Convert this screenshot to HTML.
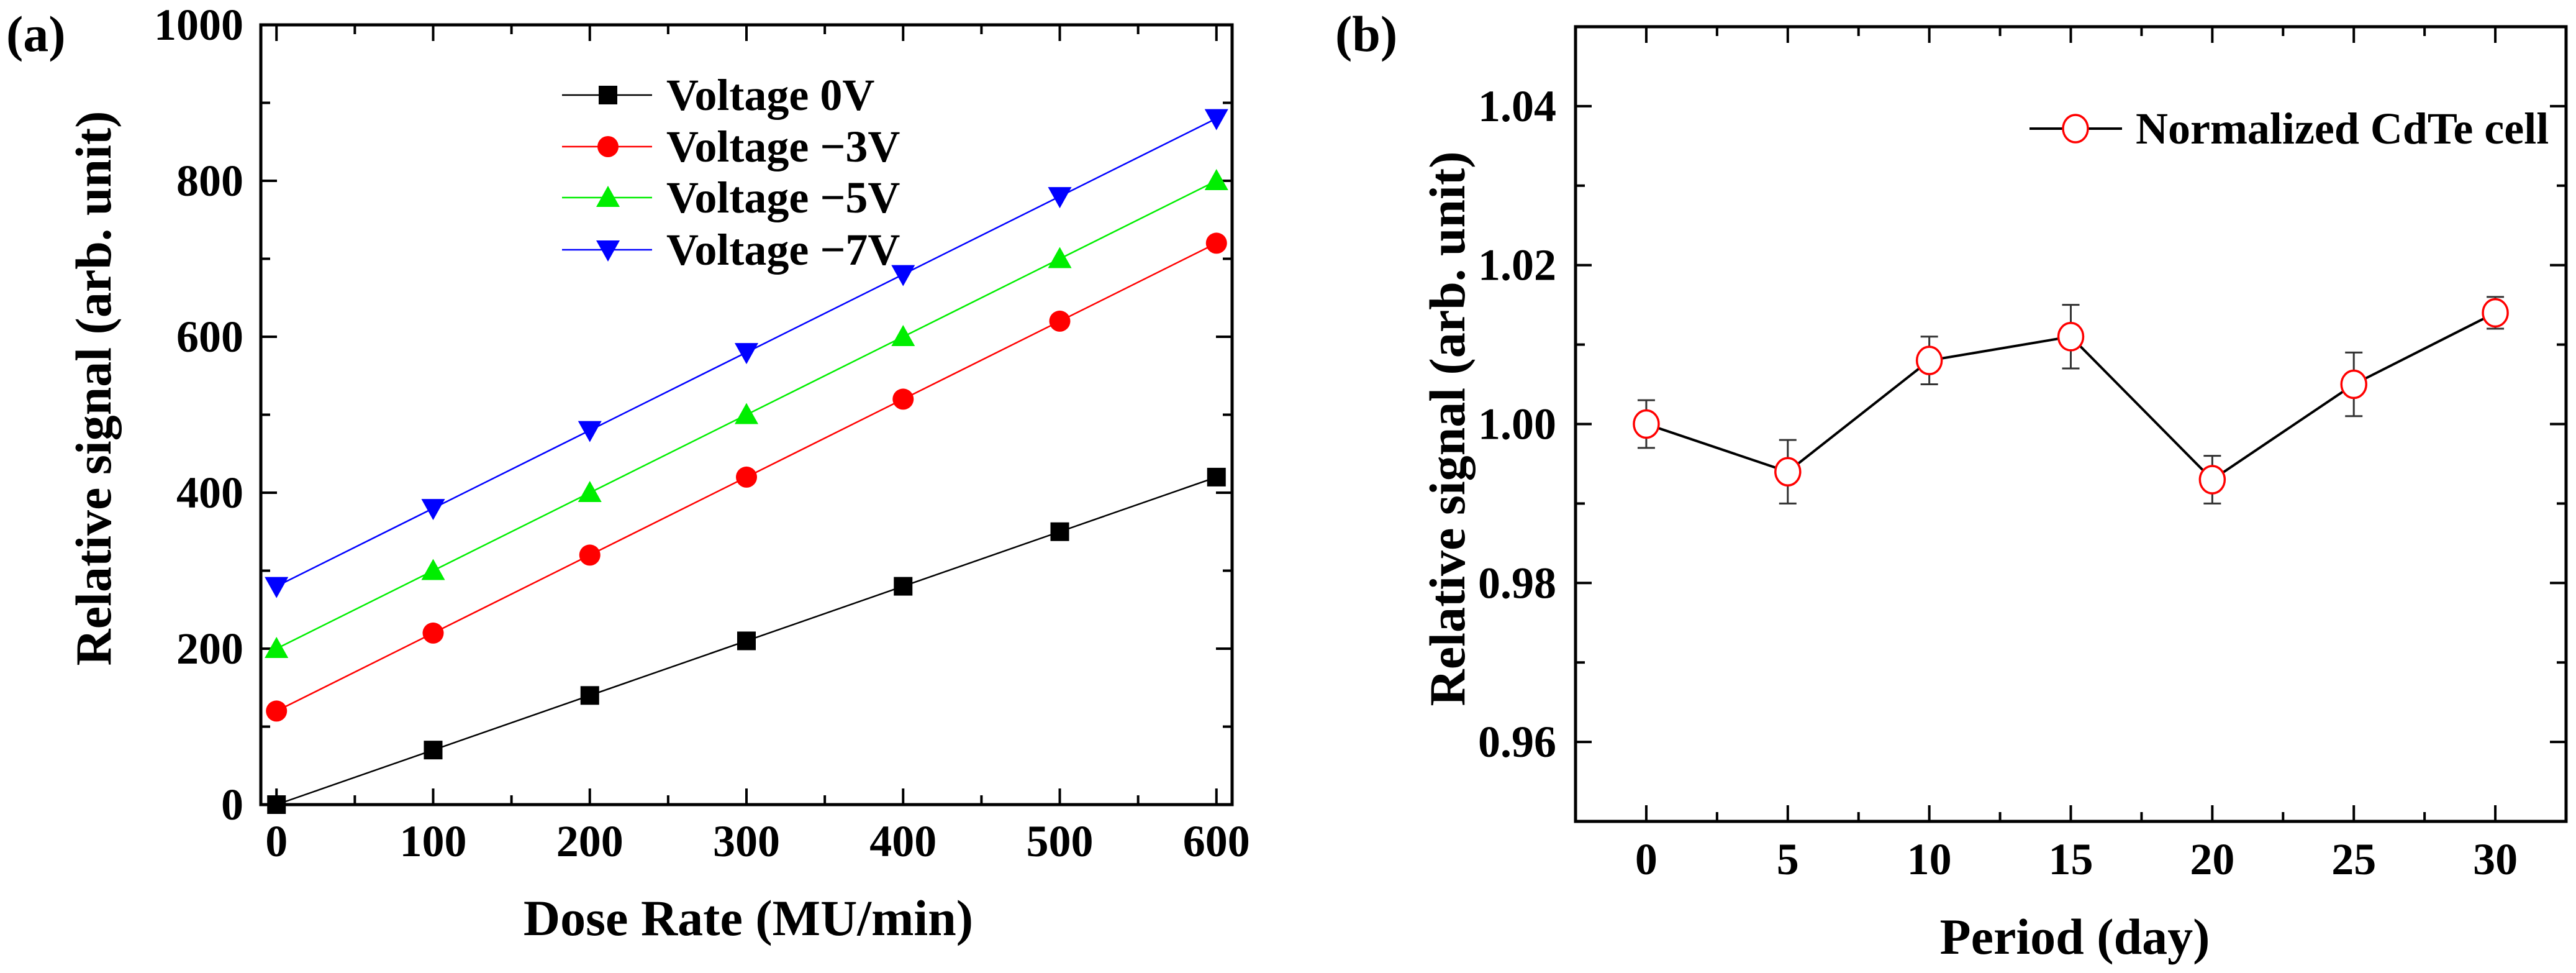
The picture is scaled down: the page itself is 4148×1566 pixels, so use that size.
<!DOCTYPE html>
<html><head><meta charset="utf-8"><style>
html,body{margin:0;padding:0;background:#fff}
svg{display:block}
text{font-family:"Liberation Serif",serif;font-weight:bold;fill:#000}
</style></head><body>
<svg id="fig" width="4148" height="1566" viewBox="0 0 4148 1566" xmlns="http://www.w3.org/2000/svg">
<g id="pa"></g>
<g id="pb"></g>
</svg>
<script>
// Panel (a) data
const doseRates = [0,100,200,300,400,500,600];
const v0 = [0,70,140,210,280,350,420];
const v3 = [120,220,320,420,520,620,720];
const v5 = [200,300,400,500,600,700,800];
const v7 = [280,380,480,580,680,780,880];
const seriesLabels = ["Voltage 0V","Voltage \u22123V","Voltage \u22125V","Voltage \u22127V"];
const xTicksA = [0,100,200,300,400,500,600];
const yTicksA = [0,200,400,600,800,1000];
// Panel (b) data
const days = [0,5,10,15,20,25,30];
const normSignal = [1.000,0.994,1.008,1.011,0.993,1.005,1.014];
const errHigh = [1.003,0.998,1.011,1.015,0.996,1.009,1.016];
const errLow = [0.997,0.990,1.005,1.007,0.990,1.001,1.012];
const xTicksB = [0,5,10,15,20,25,30];
const yTicksB = [0.96,0.98,1.00,1.02,1.04];

const NS="http://www.w3.org/2000/svg";
function mk(parent,tag,attrs,txt){const e=document.createElementNS(NS,tag);for(const k in attrs)e.setAttribute(k,attrs[k]);if(txt!==undefined)e.textContent=txt;parent.appendChild(e);return e;}

// ---------- Panel A ----------
(function(){
const g=document.getElementById('pa');
const L=420,R=1984,T=40,B=1295;
const x0=-10,x1=610,y0=0,y1=1000;
const X=v=>L+(v-x0)/(x1-x0)*(R-L);
const Y=v=>B-(v-y0)/(y1-y0)*(B-T);
for(let v=0;v<=600;v+=50){const maj=v%100===0;const l=maj?26:15;
 let t=mk(g,'line',{x1:X(v),x2:X(v),y1:B,y2:B-l,stroke:'#000','stroke-width':4});
 
 t=mk(g,'line',{x1:X(v),x2:X(v),y1:T,y2:T+l,stroke:'#000','stroke-width':4});
 }
for(let v=0;v<=1000;v+=100){const maj=v%200===0;const l=maj?26:15;
 let t=mk(g,'line',{x1:L,x2:L+l,y1:Y(v),y2:Y(v),stroke:'#000','stroke-width':4});
 
 t=mk(g,'line',{x1:R,x2:R-l,y1:Y(v),y2:Y(v),stroke:'#000','stroke-width':4});
 }
xTicksA.forEach(v=>{const t=mk(g,'text',{x:X(v),y:1378,'font-size':72,'text-anchor':'middle'},v);
 });
yTicksA.forEach(v=>{const t=mk(g,'text',{x:392,y:Y(v)+24,'font-size':72,'text-anchor':'end'},v);
 });
let ax=mk(g,'rect',{x:L,y:T,width:R-L,height:B-T,fill:'none',stroke:'#000','stroke-width':5});

let tt=mk(g,'text',{x:1205,y:1505,'font-size':82,'text-anchor':'middle'},'Dose Rate (MU/min)');

tt=mk(g,'text',{x:0,y:0,'font-size':82,'text-anchor':'middle',transform:'translate(178,625) rotate(-90)'},'Relative signal (arb. unit)');

tt=mk(g,'text',{x:10,y:82,'font-size':82},'(a)');

const series=[v0,v3,v5,v7];const colors=['#000','#ff0000','#00ee00','#0000ff'];const shapes=['sq','ci','tu','td'];
function marker(p,s,cx,cy,c){const r=17;let e;
 if(s==='sq')e=mk(p,'rect',{x:cx-r+2,y:cy-r+2,width:2*r-4,height:2*r-4,fill:c});
 else if(s==='ci')e=mk(p,'circle',{cx:cx,cy:cy,r:r,fill:c});
 else if(s==='tu')e=mk(p,'polygon',{points:`${cx},${cy-r-2} ${cx-r-2},${cy+r-2} ${cx+r+2},${cy+r-2}`,fill:c});
 else e=mk(p,'polygon',{points:`${cx},${cy+r+2} ${cx-r-2},${cy-r+2} ${cx+r+2},${cy-r+2}`,fill:c});
 return e;}
series.forEach((ys,i)=>{
 const sg=mk(g,'g',{});
 const pl=mk(sg,'polyline',{points:doseRates.map((d,j)=>X(d)+','+Y(ys[j])).join(' '),fill:'none',stroke:colors[i],'stroke-width':2.5});
 
 doseRates.forEach((d,j)=>{const m=marker(sg,shapes[i],X(d),Y(ys[j]),colors[i]);
  });
 const ly=[153,236,318,402][i];
 const lg=mk(g,'g',{});
 mk(lg,'line',{x1:905,x2:1050,y1:ly,y2:ly,stroke:colors[i],'stroke-width':2.5});
 marker(lg,shapes[i],979,ly,colors[i]);
 mk(lg,'text',{x:1073,y:ly+24,'font-size':72},seriesLabels[i]);
});
})();

// ---------- Panel B ----------
(function(){
const g=document.getElementById('pb');
const L=2537,R=4132,T=43,B=1322;
const x0=-2.5,x1=32.5,y0=0.95,y1=1.05;
const X=v=>L+(v-x0)/(x1-x0)*(R-L);
const Y=v=>B-(v-y0)/(y1-y0)*(B-T);
for(let k=0;k<=12;k++){const v=k*2.5;const maj=k%2===0;const l=maj?26:15;
 let t=mk(g,'line',{x1:X(v),x2:X(v),y1:B,y2:B-l,stroke:'#000','stroke-width':4});
 
 t=mk(g,'line',{x1:X(v),x2:X(v),y1:T,y2:T+l,stroke:'#000','stroke-width':4});
 }
[0.96,0.97,0.98,0.99,1.00,1.01,1.02,1.03,1.04].forEach(v=>{const maj=Math.round(v*100)%2===0;const l=maj?26:15;
 let t=mk(g,'line',{x1:L,x2:L+l,y1:Y(v),y2:Y(v),stroke:'#000','stroke-width':4});
 
 t=mk(g,'line',{x1:R,x2:R-l,y1:Y(v),y2:Y(v),stroke:'#000','stroke-width':4});
 });
xTicksB.forEach(v=>{const t=mk(g,'text',{x:X(v),y:1407,'font-size':72,'text-anchor':'middle'},v);
 });
yTicksB.forEach(v=>{const t=mk(g,'text',{x:2506,y:Y(v)+24,'font-size':72,'text-anchor':'end'},v.toFixed(2));
 });
let ax=mk(g,'rect',{x:L,y:T,width:R-L,height:B-T,fill:'none',stroke:'#000','stroke-width':5});

let tt=mk(g,'text',{x:3341,y:1535,'font-size':82,'text-anchor':'middle'},'Period (day)');

tt=mk(g,'text',{x:0,y:0,'font-size':82,'text-anchor':'middle',transform:'translate(2358,690) rotate(-90)'},'Relative signal (arb. unit)');

tt=mk(g,'text',{x:2150,y:82,'font-size':82},'(b)');

const pl=mk(g,'polyline',{points:days.map((d,j)=>X(d)+','+Y(normSignal[j])).join(' '),fill:'none',stroke:'#000','stroke-width':4});

days.forEach((d,j)=>{
 const eg=mk(g,'g',{stroke:'#333','stroke-width':3});
 
 mk(eg,'line',{x1:X(d),x2:X(d),y1:Y(errHigh[j]),y2:Y(errLow[j])});
 mk(eg,'line',{x1:X(d)-14,x2:X(d)+14,y1:Y(errHigh[j]),y2:Y(errHigh[j])});
 mk(eg,'line',{x1:X(d)-14,x2:X(d)+14,y1:Y(errLow[j]),y2:Y(errLow[j])});
});
days.forEach((d,j)=>{const c=mk(g,'ellipse',{cx:X(d),cy:Y(normSignal[j]),rx:20,ry:22,fill:'#fff',stroke:'#ff0000','stroke-width':3.5});
 });
const lg=mk(g,'g',{});
mk(lg,'line',{x1:3268,x2:3417,y1:207,y2:207,stroke:'#000','stroke-width':4});
mk(lg,'ellipse',{cx:3342,cy:207,rx:20,ry:22,fill:'#fff',stroke:'#ff0000','stroke-width':3.5});
mk(lg,'text',{x:3439,y:231,'font-size':72},'Normalized CdTe cell');
})();
</script>
</body></html>
